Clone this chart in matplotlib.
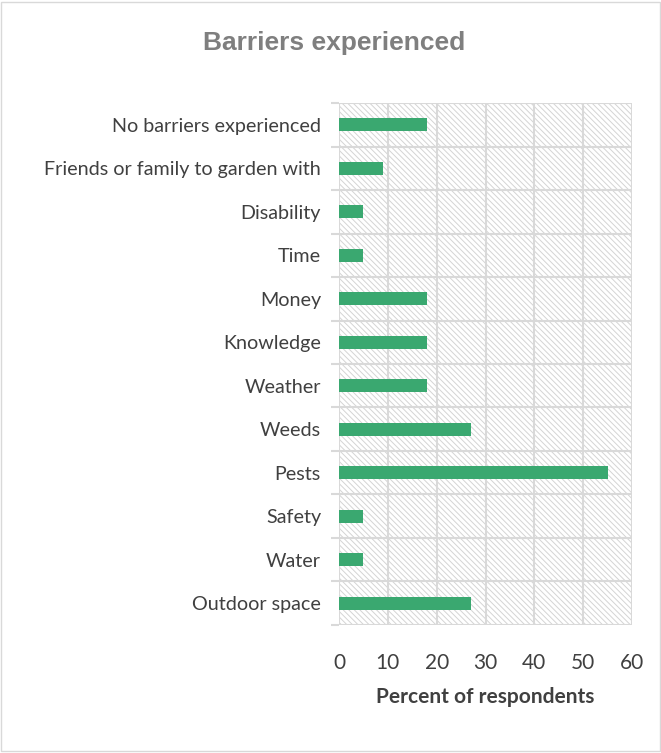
import matplotlib.pyplot as plt
from matplotlib.patches import Rectangle
import numpy as np

# barriers, listed bottom to top as drawn
barriers = ["Outdoor space", "Water", "Safety", "Pests", "Weeds", "Weather",
            "Knowledge", "Money", "Time", "Disability",
            "Friends or family to garden with", "No barriers experienced"]
percent = [27, 5, 5, 55, 27, 18, 18, 18, 5, 5, 9, 18]

plt.rcParams['font.family'] = ['Lato', 'DejaVu Sans']
plt.rcParams['hatch.linewidth'] = 0.7

fig = plt.figure(figsize=(6.61, 7.53), dpi=100)
ax = fig.add_axes([0.5129, 0.17, 0.4433, 0.6932])

# hatched plot area
ax.add_patch(Rectangle((0, 0), 1, 1, transform=ax.transAxes, facecolor='white',
                       edgecolor='#d4d4d4', hatch='\\\\\\\\\\\\', lw=0, zorder=0))

y = np.arange(len(barriers))
ax.barh(y, percent, height=0.3, color='#3aa870', zorder=3)

ax.set_xlim(0, 60)
ax.set_ylim(-0.5, len(barriers) - 0.5)
ax.set_xticks(range(0, 61, 10))
ax.set_yticks(y)
ax.set_yticklabels(barriers, fontsize=14.2, color='#404040')
ax.set_yticks(np.arange(-0.5, len(barriers)), minor=True)

ax.grid(axis='x', color='#d9d9d9', lw=1.5, zorder=1)
ax.grid(axis='y', which='minor', color='#d9d9d9', lw=1.5, zorder=1)
ax.set_axisbelow(True)
ax.tick_params(axis='y', which='major', length=0, pad=13)
ax.tick_params(axis='y', which='minor', length=6, width=1.5, color='#d9d9d9')
ax.tick_params(axis='x', length=0, pad=20, labelsize=15, labelcolor='#404040')
for s in ax.spines.values():
    s.set_visible(False)

ax.set_xlabel('Percent of respondents', fontsize=15, fontweight='bold',
              color='#404040', labelpad=10)

fig.text(0.505, 0.943, 'Barriers experienced', ha='center', va='center',
         fontsize=19, fontweight='bold', color='#7f7f7f',
         family=['Liberation Sans', 'DejaVu Sans'])

# light frame round the chart
fig.add_artist(Rectangle((0.002, 0.002), 0.996, 0.996, transform=fig.transFigure,
                         fill=False, edgecolor='#d9d9d9', lw=1))

fig.savefig('out.png', dpi=100)
